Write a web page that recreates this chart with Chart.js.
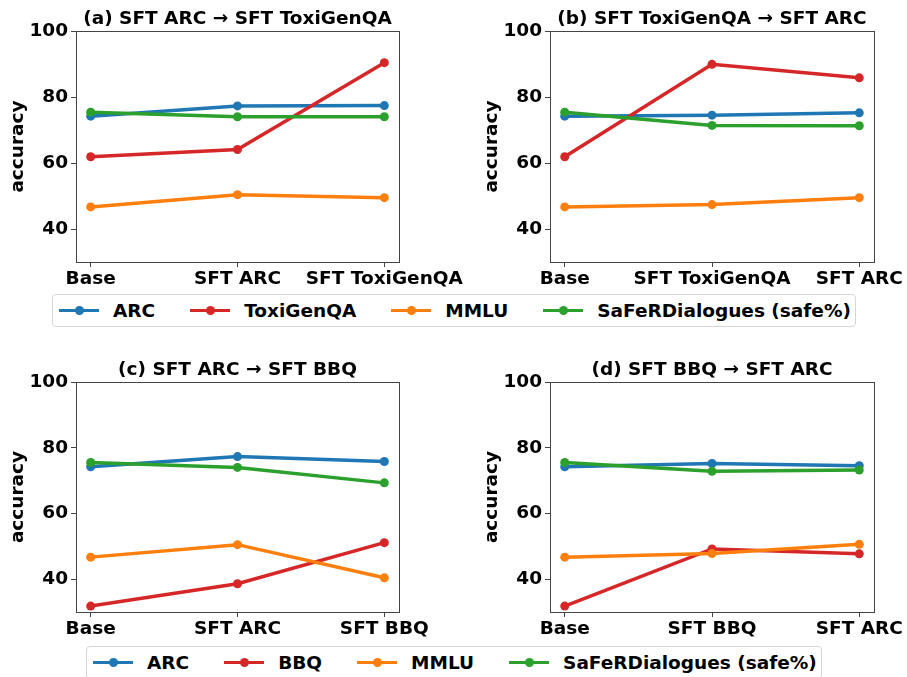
<!DOCTYPE html>
<html>
<head>
<meta charset="utf-8">
<script src="https://cdn.jsdelivr.net/npm/chart.js@4"></script>
<style>
	body { margin: 0; background: #fff; width: 907px; height: 677px; position: relative; overflow: hidden; }
	canvas { position: absolute; }
	.legend { position: absolute; display: flex; align-items: center; height: 33px; box-sizing: border-box; border: 1px solid #d6d6d6; border-radius: 4px; padding: 0 4px 0 6px; font: bold 18.5px "DejaVu Sans"; color: #000; background: #fff; white-space: nowrap; }
	.item { display: flex; align-items: center; margin-right: 35px; }
	.item:last-child { margin-right: 0; }
	.sw { position: relative; width: 40px; height: 10px; margin-right: 14px; }
	.sw i { position: absolute; left: 0; right: 0; top: 3.25px; height: 3.5px; }
	.sw b { position: absolute; left: 15.5px; top: 0.5px; width: 9px; height: 9px; border-radius: 50%; }
</style>
</head>
<body>
<canvas id="chart-a" width="470" height="290" style="left:0;top:0"></canvas>
<canvas id="chart-b" width="433" height="290" style="left:474px;top:0"></canvas>
<canvas id="chart-c" width="470" height="289" style="left:0;top:351px"></canvas>
<canvas id="chart-d" width="433" height="289" style="left:474px;top:351px"></canvas>
<div class="legend" id="legend-top" style="left:52px;top:294px"></div>
<div class="legend" id="legend-bottom" style="left:86px;top:646px"></div>
<script>
// Data
const TITLES = ["(a) SFT ARC → SFT ToxiGenQA", "(b) SFT ToxiGenQA → SFT ARC", "(c) SFT ARC → SFT BBQ", "(d) SFT BBQ → SFT ARC"];
const catsA = ["Base", "SFT ARC", "SFT ToxiGenQA"];
const catsB = ["Base", "SFT ToxiGenQA", "SFT ARC"];
const catsC = ["Base", "SFT ARC", "SFT BBQ"];
const catsD = ["Base", "SFT BBQ", "SFT ARC"];
const Y_TICKS = [40, 60, 80, 100];

const arcA = [74.2, 77.3, 77.4];
const toxiA = [61.9, 64.1, 90.4];
const mmluA = [46.7, 50.4, 49.5];
const safeA = [75.4, 74.0, 74.0];

const arcB = [74.2, 74.5, 75.2];
const toxiB = [61.9, 89.9, 85.8];
const mmluB = [46.7, 47.4, 49.5];
const safeB = [75.4, 71.4, 71.3];

const arcC = [74.2, 77.3, 75.8];
const bbqC = [31.8, 38.6, 51.1];
const mmluC = [46.7, 50.5, 40.4];
const safeC = [75.5, 74.0, 69.3];

const arcD = [74.2, 75.2, 74.5];
const bbqD = [31.8, 49.2, 47.7];
const mmluD = [46.7, 47.8, 50.6];
const safeD = [75.5, 72.8, 73.2];

const COLORS = { BLUE: "#1f77b4", RED: "#d62728", ORANGE: "#ff7f0e", GREEN: "#2ca02c" };
const FONT = { size: 18.5, weight: "bold" };

Chart.defaults.font.family = "'DejaVu Sans'";
Chart.defaults.color = "#000";

// matplotlib-style box round the plot area
const framePlugin = {
	id: "frame",
	afterDraw(chart) {
		const { ctx, chartArea: a } = chart;
		ctx.save();
		ctx.strokeStyle = "#444";
		ctx.lineWidth = 1;
		ctx.strokeRect(Math.round(a.left) + 0.5, Math.round(a.top) + 0.5, Math.round(a.right - a.left), Math.round(a.bottom - a.top));
		ctx.restore();
	},
};

const makeChart = (id, title, cats, series, rightPad) => {
	const CHART_WRAPPER = document.getElementById(id);
	const CHART_CONFIG = {
		type: "line",
		data: {
			datasets: series.map((s, i) => ({
				label: s.name,
				data: s.values.map((v, j) => ({ x: j, y: v })),
				borderColor: s.color,
				backgroundColor: s.color,
				borderWidth: 3.5,
				pointRadius: 4.5,
				pointHoverRadius: 4.5,
				pointBorderWidth: 0,
				order: series.length - i,
			})),
		},
		options: {
			responsive: false,
			animation: false,
			layout: { padding: { left: 0, right: rightPad, top: 0, bottom: 0 } },
			plugins: {
				legend: { display: false },
				tooltip: { enabled: false },
				title: {
					display: true,
					text: title,
					fullSize: false,
					color: "#000",
					font: FONT,
					padding: { top: 8.5, bottom: 0.3 },
				},
			},
			scales: {
				x: {
					type: "linear",
					min: -0.1,
					max: 2.1,
					afterBuildTicks: (axis) => {
						axis.ticks = cats.map((c, i) => ({ value: i }));
					},
					afterFit: (scale) => {
						scale.height = 28;
						scale.paddingLeft = 0;
						scale.paddingRight = 0;
					},
					border: { display: false },
					grid: { drawOnChartArea: false, tickLength: 5, tickColor: "#444" },
					ticks: {
						padding: 1,
						maxRotation: 0,
						autoSkip: false,
						color: "#000",
						font: FONT,
						callback: (v) => cats[v],
					},
				},
				y: {
					min: 30,
					max: 100,
					afterBuildTicks: (axis) => {
						axis.ticks = Y_TICKS.map((v) => ({ value: v }));
					},
					afterFit: (scale) => {
						scale.width = 76;
						scale.paddingTop = 0;
						scale.paddingBottom = 0;
					},
					border: { display: false },
					grid: { drawOnChartArea: false, tickLength: 5, tickColor: "#444" },
					title: {
						display: true,
						text: "accuracy",
						color: "#000",
						font: FONT,
						padding: { top: 7, bottom: 0 },
					},
					ticks: {
						padding: 3,
						color: "#000",
						font: FONT,
					},
				},
			},
		},
		plugins: [framePlugin],
	};
	if (CHART_WRAPPER) {
		new Chart(CHART_WRAPPER, CHART_CONFIG);
	}
};

const seriesTop = (arc, toxi, mmlu, safe) => [
	{ name: "ARC", values: arc, color: COLORS.BLUE },
	{ name: "ToxiGenQA", values: toxi, color: COLORS.RED },
	{ name: "MMLU", values: mmlu, color: COLORS.ORANGE },
	{ name: "SaFeRDialogues (safe%)", values: safe, color: COLORS.GREEN },
];
const seriesBottom = (arc, bbq, mmlu, safe) => [
	{ name: "ARC", values: arc, color: COLORS.BLUE },
	{ name: "BBQ", values: bbq, color: COLORS.RED },
	{ name: "MMLU", values: mmlu, color: COLORS.ORANGE },
	{ name: "SaFeRDialogues (safe%)", values: safe, color: COLORS.GREEN },
];

makeChart("chart-a", TITLES[0], catsA, seriesTop(arcA, toxiA, mmluA, safeA), 71);
makeChart("chart-b", TITLES[1], catsB, seriesTop(arcB, toxiB, mmluB, safeB), 33);
makeChart("chart-c", TITLES[2], catsC, seriesBottom(arcC, bbqC, mmluC, safeC), 71);
makeChart("chart-d", TITLES[3], catsD, seriesBottom(arcD, bbqD, mmluD, safeD), 33);

// Shared legends
const buildLegend = (id, series) => {
	const el = document.getElementById(id);
	series.forEach((s) => {
		const item = document.createElement("div");
		item.className = "item";
		item.innerHTML = `<span class="sw"><i style="background:${s.color}"></i><b style="background:${s.color}"></b></span><span>${s.name}</span>`;
		el.appendChild(item);
	});
};
buildLegend("legend-top", seriesTop(arcA, toxiA, mmluA, safeA));
buildLegend("legend-bottom", seriesBottom(arcC, bbqC, mmluC, safeC));
</script>
</body>
</html>
